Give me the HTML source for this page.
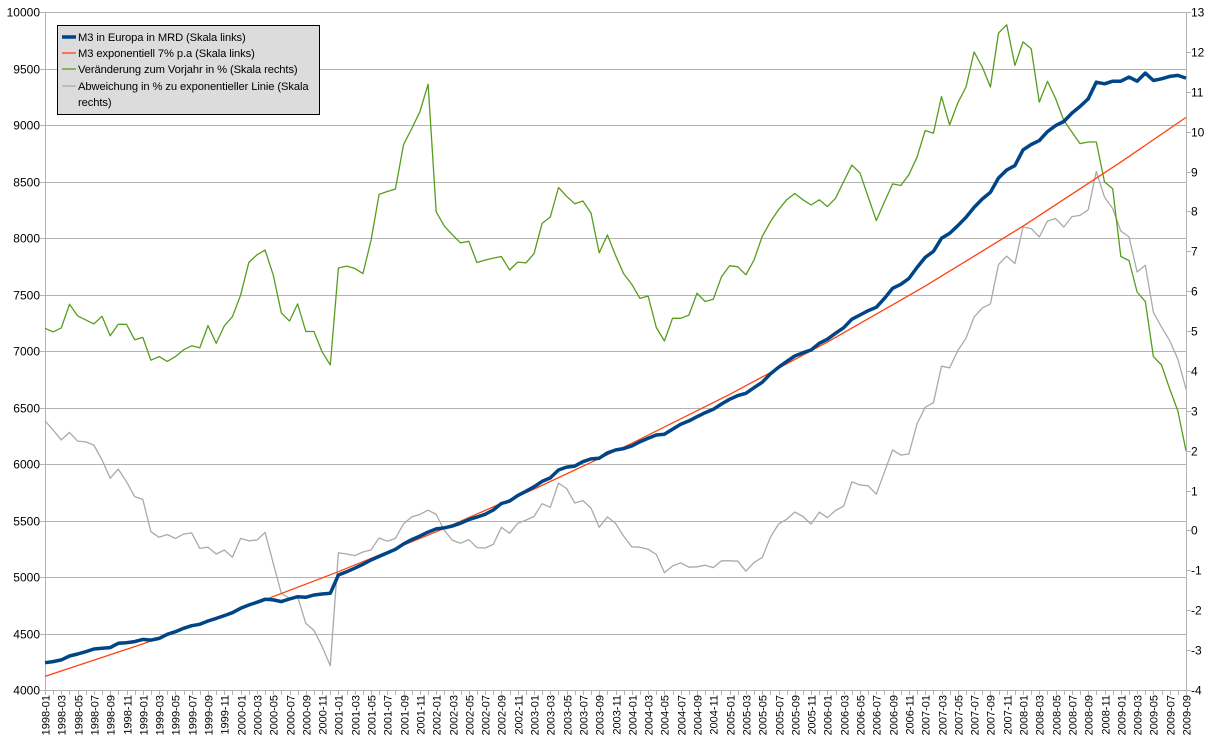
<!DOCTYPE html>
<html><head><meta charset="utf-8"><style>
html,body{margin:0;padding:0;background:#fff;}
svg{display:block;font-family:"Liberation Sans",sans-serif;}
</style></head><body>
<svg id="chart" width="1213" height="745" viewBox="0 0 1213 745" xmlns="http://www.w3.org/2000/svg">
<g id="grid"></g>
<g id="axes"></g>
<g id="series"></g>
<g id="legend" font-size="11.2" letter-spacing="-0.1">
<rect x="57.5" y="25.5" width="262" height="89" fill="#dcdcdc" stroke="#000" stroke-width="1"/>
<line x1="62" y1="37" x2="76" y2="37" stroke="#004586" stroke-width="3.5"/>
<text x="78" y="41" fill="#000">M3 in Europa in MRD (Skala links)</text>
<line x1="62" y1="53" x2="76" y2="53" stroke="#ff420e" stroke-width="1.3"/>
<text x="78" y="57" fill="#000">M3 exponentiell 7% p.a (Skala links)</text>
<line x1="62" y1="69" x2="76" y2="69" stroke="#579d1c" stroke-width="1.3"/>
<text x="78" y="73" fill="#000">Veränderung zum Vorjahr in % (Skala rechts)</text>
<line x1="62" y1="86" x2="76" y2="86" stroke="#aaaaaa" stroke-width="1.3"/>
<text x="78" y="90" fill="#000">Abweichung in % zu exponentieller Linie (Skala</text>
<text x="78" y="106" fill="#000">rechts)</text>
</g>
</svg>
<script>
const m3 = [4242,4251,4266,4301,4319,4339,4363,4369,4375,4413,4419,4428,
4448,4442,4457,4493,4516,4546,4569,4581,4611,4634,4658,4684,
4723,4752,4776,4803,4797,4782,4805,4826,4820,4841,4850,4856,
5018,5046,5078,5112,5150,5182,5213,5245,5293,5331,5362,5397,
5426,5435,5451,5476,5508,5530,5555,5593,5650,5672,5720,5758,
5798,5846,5877,5947,5973,5981,6020,6045,6051,6098,6124,6136,
6159,6197,6227,6257,6263,6307,6351,6381,6419,6454,6484,6531,
6573,6605,6626,6675,6723,6797,6856,6906,6956,6985,7009,7068,
7104,7157,7206,7281,7319,7357,7387,7466,7555,7590,7642,7739,
7828,7881,7997,8041,8109,8183,8271,8345,8404,8531,8602,8641,
8780,8827,8862,8942,8995,9031,9105,9164,9232,9379,9365,9388,
9388,9424,9388,9459,9394,9409,9430,9439,9415];
// exponential trend values read at yearly points (index: value)
const expIdx = [0,12,24,36,48,60,72,84,96,108,120,132,140];
const expVal = [4120,4408,4717,5047,5400,5778,6183,6616,7079,7574,8104,8672,9067];
const changePct = [5.07,4.98,5.08,5.67,5.38,5.28,5.18,5.37,4.88,5.17,5.17,4.78,
4.84,4.27,4.36,4.24,4.36,4.53,4.63,4.58,5.14,4.69,5.13,5.36,
5.90,6.72,6.91,7.03,6.41,5.45,5.25,5.68,4.99,4.99,4.48,4.15,
6.58,6.63,6.57,6.44,7.27,8.43,8.50,8.56,9.68,10.08,10.50,11.19,
7.99,7.63,7.41,7.21,7.25,6.72,6.78,6.83,6.87,6.53,6.73,6.71,
6.94,7.70,7.86,8.60,8.38,8.19,8.26,7.96,6.96,7.41,6.90,6.44,
6.17,5.82,5.88,5.09,4.75,5.32,5.32,5.40,5.95,5.74,5.80,6.36,
6.64,6.61,6.41,6.78,7.37,7.74,8.04,8.29,8.45,8.29,8.16,8.29,
8.12,8.33,8.75,9.16,8.96,8.37,7.77,8.24,8.69,8.65,8.92,9.36,
10.03,9.96,10.88,10.17,10.72,11.12,12.0,11.62,11.12,12.47,12.68,11.66,
12.25,12.08,10.74,11.26,10.83,10.28,9.99,9.70,9.74,9.74,8.74,8.57,
6.87,6.77,5.98,5.74,4.36,4.15,3.55,3.0,2.0];
const deviationPct = [2.75,2.52,2.27,2.46,2.24,2.22,2.14,1.77,1.31,1.54,1.22,0.85,
0.78,-0.03,-0.17,-0.10,-0.20,-0.09,-0.06,-0.45,-0.42,-0.59,-0.49,-0.67,
-0.20,-0.26,-0.24,-0.05,-0.82,-1.58,-1.70,-1.66,-2.33,-2.50,-2.91,-3.39,
-0.56,-0.59,-0.63,-0.54,-0.49,-0.19,-0.27,-0.20,0.17,0.34,0.40,0.51,
0.40,0.0,-0.25,-0.32,-0.23,-0.43,-0.44,-0.35,0.08,-0.07,0.18,0.26,
0.35,0.67,0.58,1.19,1.05,0.69,0.75,0.56,0.08,0.34,0.18,-0.14,
-0.41,-0.42,-0.47,-0.60,-1.06,-0.89,-0.81,-0.92,-0.91,-0.87,-0.93,-0.76,
-0.76,-0.77,-1.02,-0.80,-0.68,-0.17,0.16,0.28,0.46,0.35,0.16,0.46,
0.32,0.50,0.61,1.22,1.14,1.12,0.91,1.47,2.02,1.89,1.92,2.67,
3.09,3.20,4.12,4.08,4.51,4.82,5.35,5.58,5.68,6.67,6.88,6.69,
7.61,7.57,7.36,7.76,7.82,7.61,7.87,7.90,8.04,9.0,8.36,8.07,
7.51,7.36,6.48,6.65,5.47,5.10,4.76,4.30,3.55];
const leftTicks = [4000,4500,5000,5500,6000,6500,7000,7500,8000,8500,9000,9500,10000];
const rightTicks = [-4,-3,-2,-1,0,1,2,3,4,5,6,7,8,9,10,11,12,13];
const categories = [];
for (let y = 1998; y <= 2009; y++) for (let m = 1; m <= 12; m++) {
  if (y === 2009 && m > 9) break;
  categories.push(y + '-' + (m < 10 ? '0' + m : m));
}

const NS = 'http://www.w3.org/2000/svg';
const X0 = 45, X1 = 1186, Y0 = 690, Y1 = 12;
const xPos = i => X0 + (X1 - X0) * i / (categories.length - 1);
const yL = v => Y0 - (v - 4000) / 6000 * (Y0 - Y1);
const yR = v => Y0 - (v + 4) / 17 * (Y0 - Y1);
function mk(tag, attrs, parent) {
  const e = document.createElementNS(NS, tag);
  for (const k in attrs) e.setAttribute(k, attrs[k]);
  parent.appendChild(e);
  return e;
}
const grid = document.getElementById('grid');
const axes = document.getElementById('axes');
const series = document.getElementById('series');

leftTicks.forEach(v => {
  const y = Math.round(yL(v)) + 0.5;
  const g = mk('line', {x1: X0 - 5, x2: X1, y1: y, y2: y, stroke: '#b3b3b3', 'stroke-width': 1}, grid);
  
  
  const t = mk('text', {x: 40, y: y + 4, 'text-anchor': 'end', 'font-size': 12, fill: '#000'}, axes);
  t.textContent = v;
  
  
});
rightTicks.forEach(v => {
  const y = Math.round(yR(v)) + 0.5;
  const tk = mk('line', {x1: X1, x2: X1 + 5, y1: y, y2: y, stroke: '#b3b3b3', 'stroke-width': 1}, axes);
  
  
  const t = mk('text', {x: 1191, y: y + 4, 'font-size': 12, fill: '#000'}, axes);
  t.textContent = v;
  
  
});
const la = mk('line', {x1: X0 + 0.5, x2: X0 + 0.5, y1: Y1, y2: Y0, stroke: '#b3b3b3'}, axes);


const ra = mk('line', {x1: X1 + 0.5, x2: X1 + 0.5, y1: Y1, y2: Y0, stroke: '#b3b3b3'}, axes);


categories.forEach((c, i) => {
  const x = Math.round(xPos(i)) + 0.5;
  const tk = mk('line', {x1: x, x2: x, y1: Y0, y2: Y0 + 5, stroke: '#b3b3b3'}, axes);
  
  
  if (i % 2 === 0) {
    const t = mk('text', {x: 0, y: 0, 'text-anchor': 'end', 'font-size': 11, fill: '#000',
      transform: 'translate(' + (x + 4) + ',' + (Y0 + 5) + ') rotate(-90)'}, axes);
    t.textContent = c;
    
    
  }
});
function line(vals, idx, yf, color, w, name) {
  const pts = vals.map((v, k) => xPos(idx ? idx[k] : k).toFixed(1) + ',' + yf(v).toFixed(1)).join(' ');
  const p = mk('polyline', {points: pts, fill: 'none', stroke: color, 'stroke-width': w, 'stroke-linejoin': 'round'}, series);
  
  
}
line(deviationPct, null, yR, '#aaaaaa', 1.3, 'deviation-line');
line(changePct, null, yR, '#579d1c', 1.3, 'yoy-change-line');
line(expVal, expIdx, yL, '#ff420e', 1.3, 'exponential-line');
line(m3, null, yL, '#004586', 3.5, 'm3-line');
</script>
</body></html>
